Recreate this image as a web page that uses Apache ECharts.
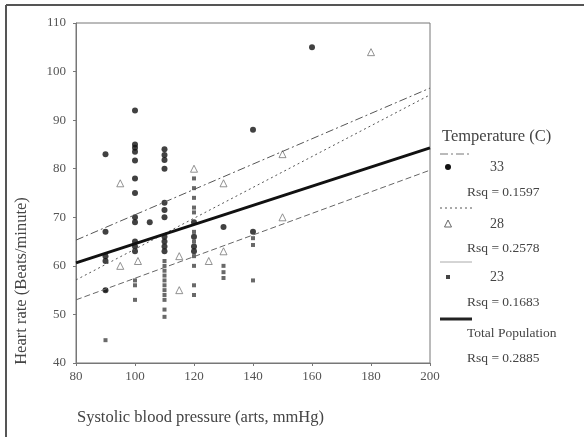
<!DOCTYPE html>
<html><head><meta charset="utf-8">
<script src="https://cdn.jsdelivr.net/npm/echarts@6/dist/echarts.min.js"></script>
<style>html,body{margin:0;padding:0;background:#fff}#c{width:584px;height:437px}</style>
</head><body><div id="c"></div>
<script>
// Scatter data [systolic BP, heart rate]
const t33 = [[90,83],[90,67],[90,62],[90,61],[90,55],[100,92],[100,85],[100,84.3],[100,83.5],[100,81.7],[100,78],[100,75],[100,70],[100,69],[100,65],[100,64],[100,63],[105,69],[110,84],[110,82.8],[110,81.8],[110,80],[110,73],[110,71.5],[110,70],[110,66],[110,65],[110,64],[110,63],[120,69],[120,66],[120,64],[120,63],[130,68],[140,88],[140,67],[160,105]];
const t28 = [[95,77],[95,60],[101,61],[115,62],[115,55],[120,80],[125,61],[130,77],[130,63],[150,83],[150,70],[180,104]];
const t23 = [[90,55],[90,44.7],[100,57],[100,56],[100,53],[110,61],[110,60],[110,59],[110,58],[110,57],[110,56],[110,55],[110,54],[110,53],[110,51],[110,49.5],[120,78],[120,76],[120,74],[120,72],[120,71],[120,67],[120,65],[120,62],[120,60],[120,56],[120,54],[130,60],[130,58.7],[130,57.5],[140,65.7],[140,64.3],[140,57]];
// Regression line endpoints
const fitX = [80, 200];
const fit33 = [65.3, 96.6];
const fit28 = [57.1, 95.2];
const fit23 = [53.0, 79.7];
const fitAll = [60.6, 84.3];
const groupLabels = ['33', '28', '23', 'Total Population'];
const rsq = ['Rsq = 0.1597', 'Rsq = 0.2578', 'Rsq = 0.1683', 'Rsq = 0.2885'];
const xTicks = [80, 100, 120, 140, 160, 180, 200];
const yTicks = [40, 50, 60, 70, 80, 90, 100, 110];

const serif = '"Liberation Serif","DejaVu Serif",serif';
const pair = v => fitX.map((x, i) => [x, v[i]]);

const chart = echarts.init(document.getElementById('c'));
const legendText = (x, y, t, size) => ({type:'text', x, y, style:{text:t, font: size + 'px ' + serif, fill:'#444', textVerticalAlign:'middle'}});
const legendLine = (y, dash, color, w) => ({type:'line', shape:{x1:440, y1:y, x2:472, y2:y}, style:{stroke:color, lineWidth:w, lineDash:dash}});

chart.setOption({
  animation:false,
  grid:{left:76, right:154, top:23, bottom:74, show:true, borderColor:'#777', borderWidth:1},
  xAxis:{type:'value', min:80, max:200, interval:20,
    axisLine:{lineStyle:{color:'#777'}}, axisTick:{show:true, length:3, lineStyle:{color:'#777'}},
    splitLine:{show:false}, axisLabel:{color:'#555', fontFamily:serif, fontSize:13, margin:7}},
  yAxis:{type:'value', min:40, max:110, interval:10,
    axisLine:{show:true, lineStyle:{color:'#777'}}, axisTick:{show:true, length:3, lineStyle:{color:'#777'}},
    splitLine:{show:false}, axisLabel:{color:'#555', fontFamily:serif, fontSize:13, margin:10}},
  series:[
    {type:'scatter', name:'23', data:t23, symbol:'rect', symbolSize:4, itemStyle:{color:'#444'}},
    {type:'scatter', name:'28', data:t28, symbol:'triangle', symbolSize:7, itemStyle:{color:'#fff', borderColor:'#777', borderWidth:1}},
    {type:'scatter', name:'33', data:t33, symbol:'circle', symbolSize:6, itemStyle:{color:'#111'}},
    {type:'line', data:pair(fit33), symbol:'none', lineStyle:{color:'#555', width:1, type:[8,3,2,3]}},
    {type:'line', data:pair(fit28), symbol:'none', lineStyle:{color:'#555', width:1, type:[2,3]}},
    {type:'line', data:pair(fit23), symbol:'none', lineStyle:{color:'#666', width:1, type:[6,3]}},
    {type:'line', data:pair(fitAll), symbol:'none', lineStyle:{color:'#111', width:3}}
  ],
  graphic:[
    {type:'line', shape:{x1:6, y1:5, x2:584, y2:5}, style:{stroke:'#555', lineWidth:2}},
    {type:'line', shape:{x1:6, y1:5, x2:6, y2:437}, style:{stroke:'#555', lineWidth:2}},
    {type:'text', x:22, y:281, rotation:Math.PI/2, style:{text:'Heart rate (Beats/minute)', font:'16.5px ' + serif, fill:'#444', textAlign:'center', textVerticalAlign:'middle'}},
    {type:'text', x:77, y:418, style:{text:'Systolic blood pressure (arts, mmHg)', font:'16.5px ' + serif, fill:'#444', textVerticalAlign:'middle'}},
    legendText(442, 137, 'Temperature (C)', 16.5),
    legendLine(154, [8,3,2,3], '#777', 1),
    {type:'circle', shape:{cx:448, cy:167, r:3}, style:{fill:'#111'}},
    legendText(490, 167, groupLabels[0], 14),
    legendText(467, 192, rsq[0], 13.5),
    legendLine(208, [2,3], '#555', 1),
    {type:'polygon', shape:{points:[[448,220],[444.5,227],[451.5,227]]}, style:{fill:'#fff', stroke:'#666', lineWidth:1}},
    legendText(490, 224, groupLabels[1], 14),
    legendText(467, 248, rsq[1], 13.5),
    legendLine(262, null, '#aaa', 1),
    {type:'rect', shape:{x:446, y:275, width:4, height:4}, style:{fill:'#444'}},
    legendText(490, 277, groupLabels[2], 14),
    legendText(467, 302, rsq[2], 13.5),
    legendLine(319, null, '#222', 3),
    legendText(467, 333, groupLabels[3], 13.5),
    legendText(467, 358, rsq[3], 13.5)
  ]
});
</script></body></html>
